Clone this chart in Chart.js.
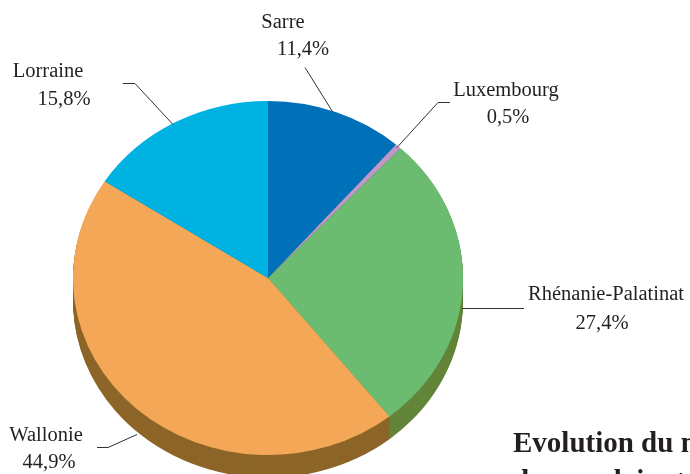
<!DOCTYPE html>
<html>
<head>
<meta charset="utf-8">
<script src="https://cdn.jsdelivr.net/npm/chart.js@4"></script>
<style>
  html, body { margin: 0; padding: 0; background: #fff; overflow: hidden; }
  #wrap { position: relative; width: 690px; height: 474px; }
  .note {
    position: absolute; left: 513px; white-space: nowrap;
    font: bold 29px "Liberation Serif", serif; line-height: 29px; color: #231f20;
  }
</style>
</head>
<body>
<div id="wrap">
  <canvas id="pieChart" width="690" height="474"></canvas>
  <div class="note" style="top:428px">Evolution du nombre</div>
  <div class="note" style="top:466px">des emplois et</div>
</div>
<script>
// data
const regions = ['Sarre', 'Luxembourg', 'Rhénanie-Palatinat', 'Wallonie', 'Lorraine'];
const shares = [11.4, 0.5, 27.4, 44.9, 15.8];

const faceColors = ['#0070b9', '#bd98c9', '#6bbb70', '#f4a857', '#00b2e2'];
const sideColors = ['#004a7a', '#6d5575', '#628539', '#8d6528', '#006a88'];

// label placement: text centres / baselines and leader line points
const labelLayout = [
    { name: [283, 28], pct: [303, 55], line: [[305, 67], [333, 112]] },
    { name: [506, 96], pct: [508, 123], line: [[397, 147], [438, 102], [450, 102]] },
    { name: [606, 300], pct: [602, 329], line: [[462, 308], [524, 308]] },
    { name: [46, 441], pct: [49, 468], line: [[137, 434], [108, 447], [97, 447]] },
    { name: [48, 77], pct: [64, 105], line: [[173, 124], [135, 83], [123, 83]] }
];

const TILT = 177 / 195;   // vertical squash of the pie
const DEPTH = 22;         // thickness of the pie side, in px

function fmtPct(v) {
    return v.toFixed(1).replace('.', ',') + '%';
}

// squash the pie into an ellipse and draw the side below it
const pie3d = {
    id: 'pie3d',
    beforeDatasetsDraw(chart) {
        const ctx = chart.ctx;
        const arcs = chart.getDatasetMeta(0).data;
        const cx = arcs[0].x, cy = arcs[0].y;
        ctx.save();
        ctx.translate(cx, cy);
        ctx.scale(1, TILT);
        ctx.translate(-cx, -cy);
        const d0 = DEPTH / TILT;
        for (let d = Math.ceil(d0); d >= 1; d--) {
            arcs.forEach((a, i) => {
                ctx.beginPath();
                ctx.moveTo(a.x, a.y + d);
                ctx.arc(a.x, a.y + d, a.outerRadius, a.startAngle, a.endAngle);
                ctx.closePath();
                ctx.fillStyle = sideColors[i];
                ctx.fill();
            });
        }
    },
    afterDatasetsDraw(chart) {
        chart.ctx.restore();
    },
    afterDraw(chart) {
        const ctx = chart.ctx;
        ctx.save();
        ctx.strokeStyle = '#333333';
        ctx.lineWidth = 1;
        ctx.fillStyle = '#231f20';
        ctx.font = '20.5px "Liberation Serif", serif';
        ctx.textAlign = 'center';
        ctx.textBaseline = 'alphabetic';
        labelLayout.forEach((lab, i) => {
            ctx.beginPath();
            lab.line.forEach((p, j) => {
                if (j === 0) ctx.moveTo(p[0], p[1] + 0.5);
                else ctx.lineTo(p[0], p[1] + 0.5);
            });
            ctx.stroke();
            ctx.fillText(regions[i], lab.name[0], lab.name[1]);
            ctx.fillText(fmtPct(shares[i]), lab.pct[0], lab.pct[1]);
        });
        ctx.restore();
    }
};

const ctx = document.getElementById('pieChart').getContext('2d');
const pieChart = new Chart(ctx, {
    type: 'pie',
    data: {
        labels: regions,
        datasets: [{
            data: shares,
            backgroundColor: faceColors,
            borderWidth: 0,
            hoverOffset: 0,
            clip: false
        }]
    },
    options: {
        responsive: false,
        animation: false,
        events: [],
        layout: {
            padding: { left: 73, right: 227, top: 83, bottom: 1 }
        },
        plugins: {
            legend: { display: false },
            tooltip: { enabled: false }
        }
    },
    plugins: [pie3d]
});
</script>
</body>
</html>
